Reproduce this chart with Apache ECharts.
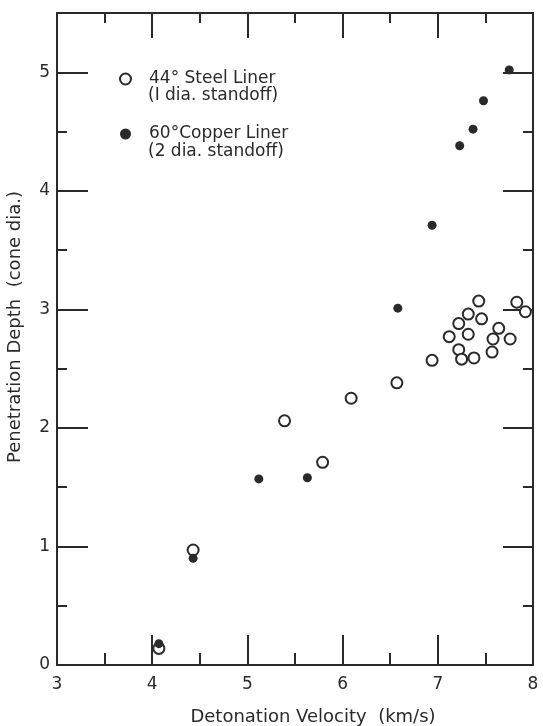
<!DOCTYPE html>
<html>
<head>
<meta charset="utf-8">
<script src="https://cdn.jsdelivr.net/npm/echarts@6/dist/echarts.min.js"></script>
<style>
  html, body { margin: 0; padding: 0; background: #fff; }
  #chart { width: 543px; height: 726px; }
</style>
</head>
<body>
<div id="chart"></div>
<script>
// 44° steel liner, 1 dia. standoff (open circles)
const steelVelocity = [4.07, 4.43, 5.39, 5.79, 6.09, 6.57, 6.94, 7.12, 7.22, 7.32, 7.32, 7.22, 7.25, 7.38, 7.43, 7.46, 7.64, 7.58, 7.57, 7.76, 7.83, 7.92]
const steelDepth = [0.14, 0.97, 2.06, 1.71, 2.25, 2.38, 2.57, 2.77, 2.88, 2.96, 2.79, 2.66, 2.58, 2.59, 3.07, 2.92, 2.84, 2.75, 2.64, 2.75, 3.06, 2.98]

// 60° copper liner, 2 dia. standoff (filled dots)
const copperVelocity = [4.07, 4.43, 5.12, 5.63, 6.58, 6.94, 7.23, 7.37, 7.48, 7.75]
const copperDepth = [0.18, 0.90, 1.57, 1.58, 3.01, 3.71, 4.38, 4.52, 4.76, 5.02]

const seriesNames = ['44° Steel Liner', '60°Copper Liner']
const standoffNotes = ['(I dia. standoff)', '(2 dia. standoff)']

const ink = '#2a2a2a'
const font = 'DejaVu Sans'

const zip = (xs, ys) => xs.map((x, i) => [x, ys[i]])

const chart = echarts.init(document.getElementById('chart'))

const xBase = {
  type: 'value',
  min: 3,
  max: 8,
  interval: 1,
  splitLine: { show: false },
  axisLine: { show: true, onZero: false, lineStyle: { color: ink, width: 2 } },
}
const yBase = {
  type: 'value',
  min: 0,
  max: 5.5,
  interval: 1,
  splitLine: { show: false },
  axisLine: { show: true, onZero: false, lineStyle: { color: ink, width: 2 } },
}

chart.setOption({
  animation: false,
  textStyle: { fontFamily: font },
  grid: { left: 57, right: 10, top: 13, bottom: 61, outerBoundsMode: 'none', containLabel: false },
  legend: {
    left: 119,
    top: 69,
    padding: 0,
    orient: 'vertical',
    itemWidth: 11,
    itemHeight: 11,
    itemGap: 35,
    textStyle: { color: ink, fontSize: 17, fontFamily: font, lineHeight: 20, padding: [0, 0, 0, 13] },
    data: seriesNames,
  },
  graphic: [
    { type: 'text', left: 148, top: 87, style: { text: standoffNotes[0], fill: ink, font: '17px ' + font } },
    { type: 'text', left: 148, top: 143, style: { text: standoffNotes[1], fill: ink, font: '17px ' + font } },
  ],
  xAxis: [
    {
      ...xBase,
      position: 'bottom',
      name: 'Detonation Velocity  (km/s)',
      nameLocation: 'middle',
      nameGap: 43,
      nameTextStyle: { color: ink, fontSize: 18, padding: [0, 0, 0, 36] },
      axisTick: { inside: true, length: 30, lineStyle: { color: ink, width: 2 } },
      minorTick: { show: true, splitNumber: 2, length: 12, lineStyle: { color: ink, width: 2 } },
      axisLabel: { color: ink, fontSize: 17, margin: 11 },
    },
    {
      ...xBase,
      position: 'top',
      axisTick: { inside: true, length: 25, lineStyle: { color: ink, width: 2 } },
      minorTick: { show: true, splitNumber: 2, length: 10, lineStyle: { color: ink, width: 2 } },
      axisLabel: { show: false },
    },
  ],
  yAxis: [
    {
      ...yBase,
      position: 'left',
      name: 'Penetration Depth  (cone dia.)',
      nameLocation: 'middle',
      nameGap: 33,
      nameTextStyle: { color: ink, fontSize: 18, padding: [0, 0, 0, 24] },
      axisTick: { inside: true, length: 31, lineStyle: { color: ink, width: 2 } },
      minorTick: { show: true, splitNumber: 2, length: 10, lineStyle: { color: ink, width: 2 } },
      axisLabel: { color: ink, fontSize: 17, margin: 7, showMaxLabel: false },
    },
    {
      ...yBase,
      position: 'right',
      axisTick: { inside: true, length: 30, lineStyle: { color: ink, width: 2 } },
      minorTick: { show: true, splitNumber: 2, length: 10, lineStyle: { color: ink, width: 2 } },
      axisLabel: { show: false },
    },
  ],
  series: [
    {
      name: seriesNames[0],
      type: 'scatter',
      symbol: 'circle',
      symbolSize: 11,
      itemStyle: { color: '#fff', borderColor: ink, borderWidth: 2, opacity: 1 },
      data: zip(steelVelocity, steelDepth),
    },
    {
      name: seriesNames[1],
      type: 'scatter',
      symbol: 'circle',
      symbolSize: 9,
      itemStyle: { color: ink, opacity: 1 },
      data: zip(copperVelocity, copperDepth),
    },
  ],
})
</script>
</body>
</html>
